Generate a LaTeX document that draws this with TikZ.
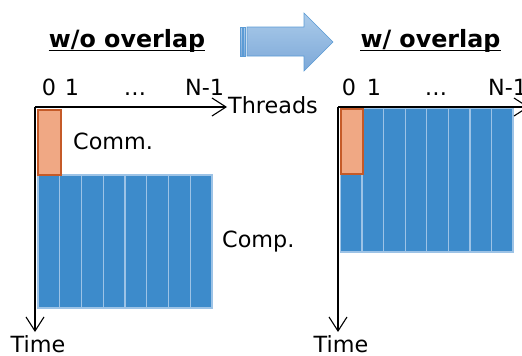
\documentclass[tikz,border=0pt]{standalone}
\usepackage{fontspec}
\setmainfont{DejaVu Sans}
\usetikzlibrary{arrows.meta}

\definecolor{commfill}{HTML}{F0A884}
\definecolor{commedge}{HTML}{C55A28}
\definecolor{compfill}{HTML}{3D8BCB}
\definecolor{compedge}{HTML}{9DC3E6}
\definecolor{arrtop}{HTML}{ABCBEA}
\definecolor{arrbot}{HTML}{7CA8D8}
\definecolor{arredge}{HTML}{5B9BD5}

\begin{document}
\begin{tikzpicture}[x=1pt,y=-1pt,
  lbl/.style={font=\fontsize{22.3}{26}\selectfont, inner sep=0pt},
  ttl/.style={font=\fontsize{23.8}{28}\selectfont\bfseries, inner sep=0pt},
  uline/.style={line width=1.7pt},
  axis/.style={line width=1.1pt, -{Straight Barb[length=14pt,width=18pt,line width=1.1pt]}},
  commbox/.style={fill=commfill, draw=commedge, line width=1.8pt},
  compbox/.style={fill=compfill, draw=compedge, line width=1.6pt},
  colline/.style={draw=compedge, line width=1.3pt},
  bigarrow/.style={top color=arrtop, bottom color=arrbot, draw=arredge, line width=0.6pt},
]
\useasboundingbox (0,0) rectangle (522,356);

% ---------- big arrow between the two panels ----------
\shade[bigarrow] (240,27) rectangle (242,56);
\shade[bigarrow] (243.5,27) rectangle (245.5,56);
\shade[bigarrow] (247,27) -- (304,27) -- (304,13) -- (333,42) -- (304,71)
  -- (304,56) -- (247,56) -- cycle;

% ---------- left panel: without overlap ----------
\node[ttl, anchor=base] (t1) at (127,47) {w/o overlap};
\draw[uline] ([yshift=-3.5pt]t1.base west) -- ([yshift=-3.5pt]t1.base east);

\node[lbl, anchor=base] (l0) at (49,95) {0};
\node[lbl, anchor=base] (l1) at (72,95) {1};
\node[lbl, anchor=base] (ld) at (135,95) {\dots};
\node[lbl, anchor=base west] (ln) at (185,95) {N-1};

% computation block with one column per thread
\path[compbox] (38,175) rectangle (212,308);
\foreach \i in {1,...,7}
  \draw[colline] (38+\i*21.75,175.8) -- ++(0,131.4);
% communication block
\path[commbox] (37.9,109.9) rectangle (60.6,174.6);

\coordinate (o1) at (35,107);
\coordinate (x1) at (227,107);
\coordinate (y1) at (35,332);
\draw[axis] (o1) -- (x1);
\draw[axis] (o1) -- (y1);

\node[lbl, anchor=base west] (thr) at (228,113) {Threads};
\node[lbl, anchor=base] (tm1) at (38,352) {Time};
\node[lbl, anchor=west] (comm) at (73,141) {Comm.};
\node[lbl, anchor=west] (comp) at (222,242) {Comp.};

% ---------- right panel: with overlap ----------
\node[ttl, anchor=base] (t2) at (430.5,47) {w/ overlap};
\draw[uline] ([yshift=-3.5pt]t2.base west) -- ([yshift=-3.5pt]t2.base east);

\node[lbl, anchor=base] (r0) at (349,95) {0};
\node[lbl, anchor=base] (r1) at (374,95) {1};
\node[lbl, anchor=base] (rd) at (436,95) {\dots};
\node[lbl, anchor=base west] (rn) at (488,95) {N-1};

\path[compbox] (340.5,108.5) rectangle (513,252);
\foreach \i in {1,...,7}
  \draw[colline] (340.5+\i*21.56,109.3) -- ++(0,141.9);
\path[commbox] (340.9,108.9) rectangle (362.6,173.6);

\coordinate (o2) at (338,107);
\coordinate (x2) at (529,107);
\coordinate (y2) at (338,332);
\draw[axis] (o2) -- (x2);
\draw[axis] (o2) -- (y2);

\node[lbl, anchor=base] (tm2) at (341,352) {Time};
\end{tikzpicture}
\end{document}
